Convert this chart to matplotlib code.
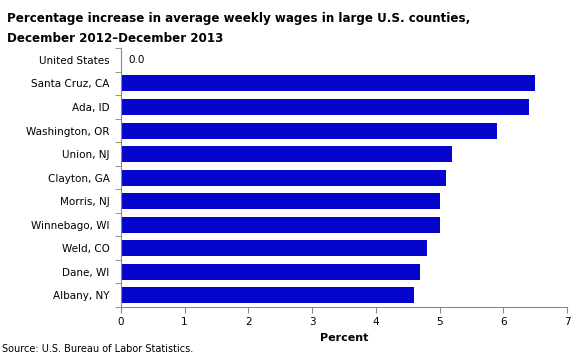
import numpy as np
import matplotlib.pyplot as plt

counties = ["United States", "Santa Cruz, CA", "Ada, ID", "Washington, OR", "Union, NJ",
            "Clayton, GA", "Morris, NJ", "Winnebago, WI", "Weld, CO", "Dane, WI", "Albany, NY"]
pct = [0.0, 6.5, 6.4, 5.9, 5.2, 5.1, 5.0, 5.0, 4.8, 4.7, 4.6]

fig = plt.figure(figsize=(5.81, 3.62), dpi=100)
ax = fig.add_axes([0.208, 0.152, 0.768, 0.715])

y = np.arange(len(counties))
ax.barh(y, pct, height=0.68, color="#0505CC")
ax.set_ylim(len(counties) - 0.5, -0.5)
ax.set_xlim(0, 7)
ax.set_yticks(y)
ax.set_yticklabels(counties, fontsize=7.5)
ax.set_yticks(np.arange(len(counties) + 1) - 0.5, minor=True)
ax.tick_params(axis="y", which="major", length=0, pad=8)
ax.tick_params(axis="y", which="minor", length=4, color="#888888")
ax.tick_params(axis="x", length=4, color="#888888", labelsize=7.5)
ax.set_xticks(range(8))
ax.set_xlabel("Percent", fontsize=8, fontweight="bold", labelpad=4)

for s in ["top", "right"]:
    ax.spines[s].set_visible(False)
for s in ["left", "bottom"]:
    ax.spines[s].set_color("#888888")

ax.text(pct[0] + 0.12, 0, f"{pct[0]:.1f}", va="center", fontsize=7.5)

fig.text(0.012, 0.95, "Percentage increase in average weekly wages in large U.S. counties,",
         fontsize=8.6, fontweight="bold", va="center")
fig.text(0.012, 0.895, "December 2012\u2013December 2013",
         fontsize=8.6, fontweight="bold", va="center")
fig.text(0.004, 0.035, "Source: U.S. Bureau of Labor Statistics.", fontsize=7, va="center")

fig.savefig("out.png", dpi=100)
